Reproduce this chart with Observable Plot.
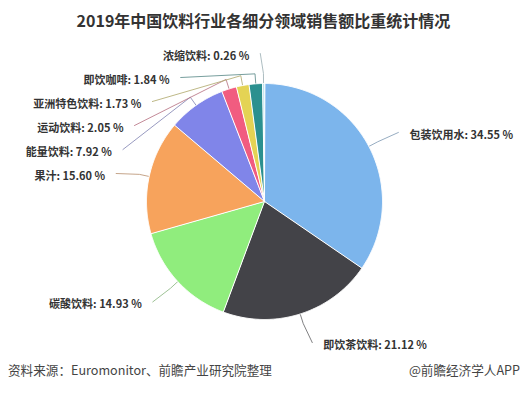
<!DOCTYPE html>
<html><head><meta charset="utf-8">
<script src="https://cdn.jsdelivr.net/npm/d3@7"></script>
<script src="https://cdn.jsdelivr.net/npm/@observablehq/plot@0.6"></script>
<style>
body{margin:0;background:#fff;width:527px;height:397px;overflow:hidden;font-family:"Noto Sans CJK SC","Noto Sans",sans-serif;}
#title{height:40px;line-height:40px;text-align:center;font-size:16px;font-weight:bold;color:#333;}
#chart{height:322px;}
#footer{position:relative;height:35px;font-size:12.6px;color:#444;}
#footer .l{position:absolute;left:8px;top:0;line-height:16px;}
#footer .r{position:absolute;right:7px;top:0;line-height:16px;}
</style></head>
<body>
<div id="title">2019年中国饮料行业各细分领域销售额比重统计情况</div>
<div id="chart"></div>
<div id="footer"><span class="l">资料来源：Euromonitor、前瞻产业研究院整理</span><span class="r">@前瞻经济学人APP</span></div>
<script>
const categories = ["包装饮用水","即饮茶饮料","碳酸饮料","果汁","能量饮料","运动饮料","亚洲特色饮料","即饮咖啡","浓缩饮料"];
const shares = [34.55, 21.12, 14.93, 15.60, 7.92, 2.05, 1.73, 1.84, 0.26];
const colors = ["#7cb5ec","#434348","#90ed7d","#f7a35c","#8085e9","#f15c80","#e4d354","#2b908f","#b8e0ec"];

const W = 527, H = 322, cx = 264, cy = 161, R = 118, dist = 30;
const arcs = d3.pie().sort(null).value(d => d)(shares);

const slices = [];
arcs.forEach((p, i) => {
  const n = Math.max(2, Math.ceil((p.endAngle - p.startAngle) / (Math.PI / 360)));
  slices.push({cat: categories[i], x: cx, y: cy});
  for (let k = 0; k <= n; k++) {
    const a = p.startAngle + (p.endAngle - p.startAngle) * k / n;
    slices.push({cat: categories[i], x: cx + R * Math.sin(a), y: cy - R * Math.cos(a)});
  }
});

const labs = arcs.map((p, i) => {
  const a = (p.startAngle + p.endAngle) / 2;
  return {cat: categories[i], share: shares[i], a, side: Math.sin(a) >= 0 ? 1 : -1, ny: cy - (R + dist) * Math.cos(a)};
});
for (const s of [1, -1]) {
  const g = labs.filter(d => d.side === s).sort((a, b) => a.ny - b.ny);
  let prev = -Infinity;
  for (const d of g) { d.y = Math.max(d.ny, prev + 24); prev = d.y; }
}
labs.forEach(d => {
  const dy = d.y - cy, r = R + dist;
  d.x = cx + d.side * Math.sqrt(Math.max(0, r * r - dy * dy));
});

const connColor = new Map(categories.map((c, i) => [c, d3.interpolateRgb(colors[i], "#8a8a8a")(0.55)]));
const conns = [];
labs.forEach(d => {
  conns.push({cat: d.cat, x: cx + R * Math.sin(d.a), y: cy - R * Math.cos(d.a)});
  conns.push({cat: d.cat, x: cx + (R + 10) * Math.sin(d.a), y: cy - (R + 10) * Math.cos(d.a)});
  conns.push({cat: d.cat, x: d.x + d.side * 3, y: d.y});
});

const fmt = d => `${d.cat}: ${d.share.toFixed(2)} %`;

const chart = Plot.plot({
  width: W, height: H, margin: 0,
  x: {type: "identity", axis: null},
  y: {type: "identity", axis: null},
  color: {domain: categories, range: colors},
  style: {fontFamily: '"Noto Sans CJK SC", sans-serif', background: "#fff"},
  marks: [
    Plot.line(conns, {x: "x", y: "y", z: "cat", stroke: d => connColor.get(d.cat), strokeWidth: 1, strokeOpacity: 0.85, curve: "linear"}),
    Plot.line(slices, {x: "x", y: "y", z: "cat", fill: "cat", stroke: "white", strokeWidth: 1, curve: "linear-closed"}),
    Plot.text(labs.filter(d => d.side > 0), {x: d => d.x + 14, y: "y", dy: 3, text: fmt, textAnchor: "start", fontSize: 11, fontWeight: "bold", fill: "#333"}),
    Plot.text(labs.filter(d => d.side < 0), {x: d => d.x - 14, y: "y", dy: 3, text: fmt, textAnchor: "end", fontSize: 11, fontWeight: "bold", fill: "#333"})
  ]
});
document.getElementById("chart").appendChild(chart);
</script>
</body></html>
